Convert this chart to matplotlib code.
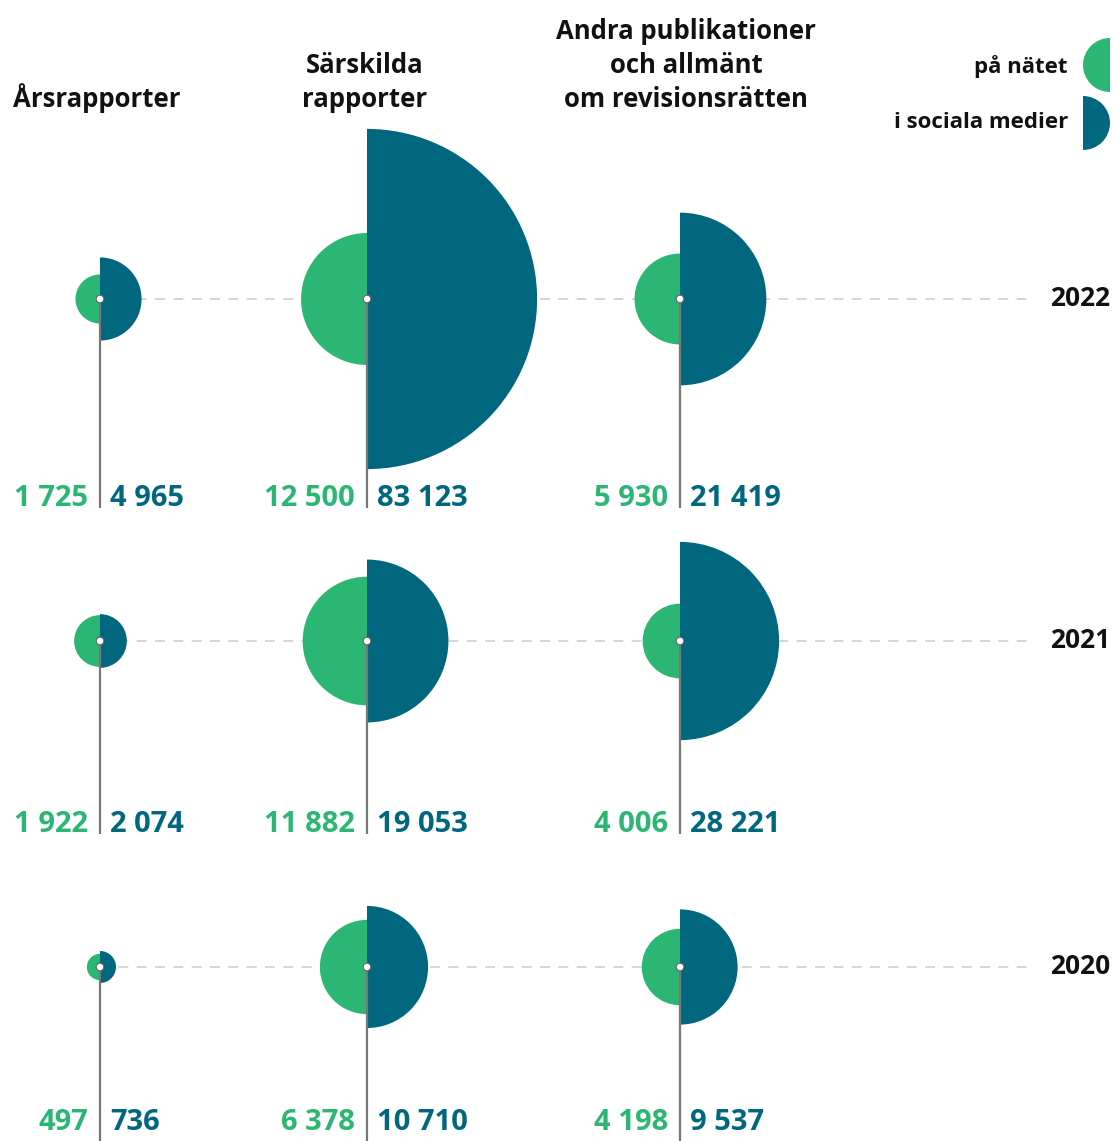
import numpy as np
import matplotlib
matplotlib.use("Agg")
import matplotlib.pyplot as plt
from matplotlib.patches import Wedge, Circle

plt.rcParams['font.family'] = ['Open Sans', 'DejaVu Sans']

# Data
categories = ["Årsrapporter", "Särskilda\nrapporter", "Andra publikationer\noch allmänt\nom revisionsrätten"]
years = ["2022", "2021", "2020"]
web = [[1725, 1922, 497], [12500, 11882, 6378], [5930, 4006, 4198]]
social = [[4965, 2074, 736], [83123, 19053, 10710], [21419, 28221, 9537]]
legend_labels = ["på nätet", "i sociala medier"]

GREEN = "#2cb673"
TEAL = "#00677f"
GREY_LINE = "#777777"
DASH = "#d0d0d0"

col_x = [100, 367, 680]
row_y = [299, 641, 967]
label_y = [498, 824, 1122]
line_end = [508, 834, 1141]
k = 0.59  # pixels per sqrt(value)


def fmt(v):
    return f"{v:,}".replace(",", " ")


fig = plt.figure(figsize=(11.13, 11.41), dpi=100)
ax = fig.add_axes([0, 0, 1, 1])
ax.set_xlim(0, 1113)
ax.set_ylim(1141, 0)
ax.axis("off")

# dashed row lines and year labels
for r, y in enumerate(row_y):
    ax.plot([100, 1028], [y, y], color=DASH, lw=1.2, ls=(0, (6, 5)), zorder=1)
    ax.text(1110, y, years[r], ha="right", va="center", fontsize=19,
            fontweight="bold", color="#111111")

# headers
header_x = [97, 365, 686]
for c, x in enumerate(header_x):
    ax.text(x, 113, categories[c], ha="center", va="bottom", fontsize=18.5,
            fontweight="bold", color="#111111", linespacing=1.33)

# half circles
for c, x in enumerate(col_x):
    for r, y in enumerate(row_y):
        rw = k * np.sqrt(web[c][r])
        rs = k * np.sqrt(social[c][r])
        ax.add_patch(Wedge((x, y), rw, 90, 270, color=GREEN, lw=0, zorder=2))
        ax.add_patch(Wedge((x, y), rs, -90, 90, color=TEAL, lw=0, zorder=2))
        ax.plot([x, x], [y, line_end[r]], color=GREY_LINE,
                lw=1.6, zorder=3, solid_capstyle="butt")
        ax.add_patch(Circle((x, y), 3.8, facecolor="white", edgecolor="#666666",
                            lw=0.8, zorder=4))
        ax.text(x - 12, label_y[r], fmt(web[c][r]), ha="right", va="center",
                fontsize=21, fontweight="bold", color=GREEN)
        ax.text(x + 10, label_y[r], fmt(social[c][r]), ha="left", va="center",
                fontsize=21, fontweight="bold", color=TEAL)

# legend
ax.text(1068, 67, legend_labels[0], ha="right", va="center", fontsize=16,
        fontweight="bold", color="#111111")
ax.add_patch(Wedge((1110, 65), 27, 90, 270, color=GREEN, lw=0))
ax.text(1068, 123, legend_labels[1], ha="right", va="center", fontsize=16,
        fontweight="bold", color="#111111")
ax.add_patch(Wedge((1083, 123), 27, -90, 90, color=TEAL, lw=0))

fig.savefig("out.png", dpi=100)
